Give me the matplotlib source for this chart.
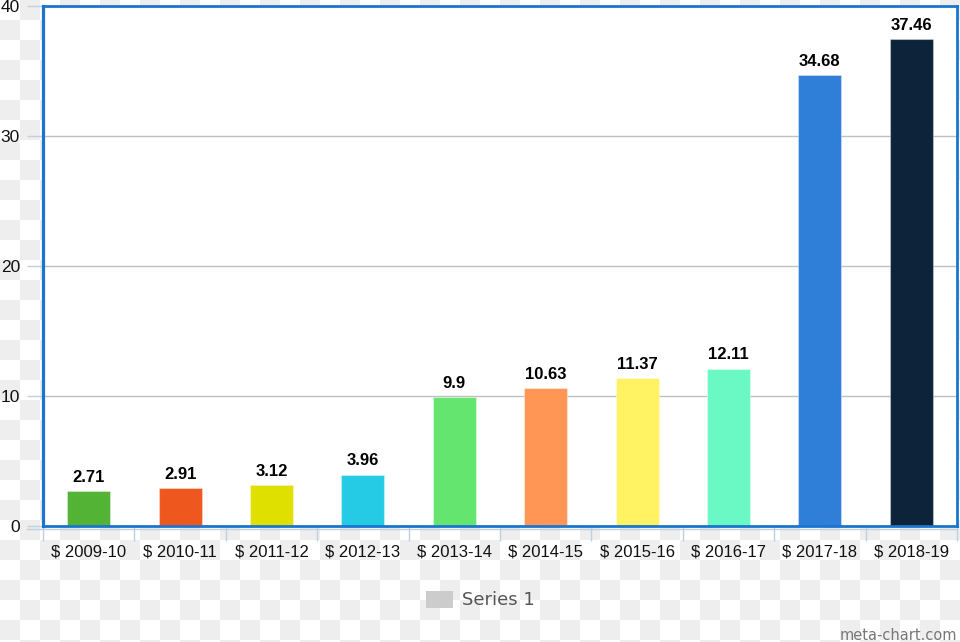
import numpy as np
import matplotlib
matplotlib.use("Agg")
import matplotlib.pyplot as plt
from matplotlib.patches import Patch
from matplotlib.lines import Line2D
import matplotlib.transforms as mtransforms

categories = ["$ 2009-10", "$ 2010-11", "$ 2011-12", "$ 2012-13", "$ 2013-14",
              "$ 2014-15", "$ 2015-16", "$ 2016-17", "$ 2017-18", "$ 2018-19"]
values = [2.71, 2.91, 3.12, 3.96, 9.9, 10.63, 11.37, 12.11, 34.68, 37.46]
value_labels = ["2.71", "2.91", "3.12", "3.96", "9.9", "10.63", "11.37", "12.11", "34.68", "37.46"]
colors = ["#52b334", "#ee581e", "#dfdf00", "#25cbe4", "#63e570",
          "#ff9655", "#fff263", "#6af9c4", "#2f7ed8", "#0d233a"]
yticks = [0, 10, 20, 30, 40]
series_name = "Series 1"

W, H = 960, 642
fig = plt.figure(figsize=(W / 100, H / 100), dpi=100)
fig.patch.set_facecolor("white")

# checkerboard "transparent" background
yy, xx = np.mgrid[0:H, 0:W]
check = (((xx // 20) + (yy // 20)) % 2).astype(float)
bg = fig.add_axes([0, 0, 1, 1], zorder=-5)
bg.imshow(check, cmap="gray_r", vmin=0, vmax=1 / 0.0667, aspect="auto", interpolation="nearest")
bg.axis("off")

left, right, top, bottom = 43, 957, 6, 526
ax = fig.add_axes([left / W, 1 - bottom / H, (right - left) / W, (bottom - top) / H])
ax.set_facecolor("white")

x = np.arange(len(categories))
ax.bar(x, values, width=0.47, color=colors, edgecolor=(1, 1, 1, 0.35), linewidth=0.8, zorder=2)

ax.set_xlim(-0.5, len(categories) - 0.5)
ax.set_ylim(0, 40)
ax.set_yticks(yticks)
ax.set_yticklabels([str(t) for t in yticks])
ax.yaxis.grid(True, color="#c0c0c0", linewidth=1.0, zorder=1)
ax.set_axisbelow(True)

for sp in ax.spines.values():
    sp.set_color("#1a75cf")
    sp.set_linewidth(2.0)
    sp.set_zorder(4)
ax.spines["left"].set_linewidth(2.3)

ax.tick_params(axis="y", which="major", length=11.5, color="#c0d0e0", width=1,
               pad=5, labelsize=12.5, labelcolor="#111111", direction="out")
for lab in ax.get_yticklabels():
    lab.set_fontfamily("Liberation Sans")

ax.set_xticks(x)
ax.set_xticklabels(categories, fontfamily="Liberation Sans", fontsize=12, color="#111111")
ax.set_xticks(np.arange(-0.5, len(categories) + 0.5, 1.0), minor=True)
ax.tick_params(axis="x", which="major", length=0, pad=13)
ax.tick_params(axis="x", which="minor", length=11, color="#c0d0e0", width=1, direction="out")

# light x-axis line slightly below frame
off = mtransforms.ScaledTranslation(0, -2.5 / 100, fig.dpi_scale_trans)
ax.add_line(Line2D([-16 / (right - left), 1.0], [0, 0], transform=ax.transAxes + off,
                   color="#c0d0e0", linewidth=1, clip_on=False, zorder=0))

for xi, v, lab in zip(x, values, value_labels):
    ax.annotate(lab, (xi, v), xytext=(0, 4.5), textcoords="offset points",
                ha="center", va="bottom", fontsize=12, fontweight="bold",
                fontfamily="Liberation Sans", color="#000000", zorder=5,
                bbox=dict(boxstyle="square,pad=0.15", facecolor="white", edgecolor="none"))

fig.legend(handles=[Patch(facecolor="#cccccc", edgecolor="none", label=series_name)],
           loc="center", bbox_to_anchor=(0.5, 1 - 600 / H), frameon=False,
           handlelength=1.5, handleheight=1.1, handletextpad=0.5,
           prop={"family": "DejaVu Sans", "size": 13}, labelcolor="#555555")

fig.text(0.997, 2 / H, "meta-chart.com", ha="right", va="baseline",
         fontsize=10.5, color="#777777", fontfamily="DejaVu Sans")

fig.savefig("out.png", dpi=100)
